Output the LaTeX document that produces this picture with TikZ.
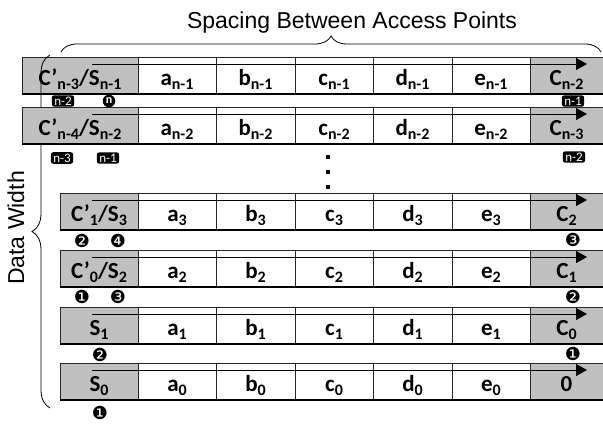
\documentclass[tikz,border=0pt]{standalone}
\usepackage{fontspec}
\setmainfont{Carlito}
\newfontfamily\lsans{Liberation Sans}
\newfontfamily\djv{DejaVu Sans}
\usetikzlibrary{arrows.meta,decorations.pathreplacing}
\definecolor{cellgray}{RGB}{192,192,192}
\newcommand{\sbs}[1]{\raisebox{-4pt}{\fontsize{16}{16}\selectfont #1}}
\tikzset{
  celltxt/.style={anchor=base,inner sep=0pt,font=\fontsize{23}{23}\selectfont\bfseries},
  cellline/.style={draw=black!85,line width=0.8pt},
  botline/.style={draw=black,line width=2.2pt},
  flowarrow/.style={draw=black,line width=1pt,-{Triangle[length=11pt,width=12pt]}},
  lbox/.style={fill=black,text=white,rounded corners=2.5pt,inner xsep=2.5pt,inner ysep=1.5pt,font=\fontsize{13}{13}\selectfont},
  lcirc/.style={circle,fill=black,text=white,inner sep=0pt,minimum size=12.5pt,font=\fontsize{12}{12}\selectfont\bfseries},
  dnum/.style={inner sep=0pt,font=\djv\fontsize{18}{18}\selectfont},
  dotsq/.style={fill=black,inner sep=0pt,minimum size=3.5pt},
  bracetxt/.style={font=\lsans\fontsize{23}{23}\selectfont},
}
% #1 prefix, #2 top, #3 left x, #4 left text, #5 subscript, #6 right text
\newcommand{\cellrow}[6]{%
  \fill[cellgray] (#3,#2) rectangle (138,#2+37);
  \fill[cellgray] (530,#2) rectangle (603,#2+37);
  \draw[cellline] (603,#2) -- (#3,#2) -- (#3,#2+37);
  \foreach \xx in {138,216,295,373,452,530} \draw[cellline] (\xx,#2) -- (\xx,#2+37);
  \draw[botline] (#3-0.5,#2+37) -- (603,#2+37);
  \node[celltxt] (#1L) at ({(#3+138)/2},#2+28) {#4};
  \node[celltxt] (#1a) at (177,#2+28) {a\sbs{#5}};
  \node[celltxt] (#1b) at (255.5,#2+28) {b\sbs{#5}};
  \node[celltxt] (#1c) at (334,#2+28) {c\sbs{#5}};
  \node[celltxt] (#1d) at (412.5,#2+28) {d\sbs{#5}};
  \node[celltxt] (#1e) at (491,#2+28) {e\sbs{#5}};
  \node[celltxt] (#1R) at (566.5,#2+28) {#6};
  \coordinate (#1s) at (92,#2+7);
  \coordinate (#1t) at (587,#2+7);
  \draw[flowarrow] (#1s) -- (#1t);
}
\begin{document}
\begin{tikzpicture}[x=1pt,y=-1pt]
\fill[white] (0,0) rectangle (603,424);
\useasboundingbox (0,0) rectangle (603,424);

\node[bracetxt,anchor=base] (title) at (352,28) {Spacing Between Access Points};
\draw[line width=0.8pt,decorate,decoration={brace,amplitude=16pt}] (61,52) -- (601,52);

\cellrow{r1}{57}{22}{C’\sbs{n-3}/S\sbs{n-1}}{n-1}{C\sbs{n-2}}
\draw[line width=0.8pt,decorate,decoration={brace,amplitude=18pt}] (50,408) -- (50,55);
\node[bracetxt,rotate=90] (dw) at (16,228) {Data Width};

\cellrow{r2}{107}{22}{C’\sbs{n-4}/S\sbs{n-2}}{n-2}{C\sbs{n-3}}
\cellrow{r3}{193}{60}{C’\sbs{1}/S\sbs{3}}{3}{C\sbs{2}}
\cellrow{r4}{250}{60}{C’\sbs{0}/S\sbs{2}}{2}{C\sbs{1}}
\cellrow{r5}{307}{60}{S\sbs{1}}{1}{C\sbs{0}}
\cellrow{r6}{363}{60}{S\sbs{0}}{0}{0}

% labels
\node[lbox] (l1a) at (63,101) {n-2};
\node[lcirc] (l1b) at (109,101) {n};
\node[lbox] (l1c) at (573,101) {n-1};
\node[lbox] (l2a) at (62,158) {n-3};
\node[lbox] (l2b) at (108,158) {n-1};
\node[lbox] (l2c) at (574,157) {n-2};
\node[dotsq] (dt1) at (328,157) {};
\node[dotsq] (dt2) at (328,172) {};
\node[dotsq] (dt3) at (328,187) {};
\node[dnum] (l3a) at (82,241) {❷};
\node[dnum] (l3b) at (118,241) {❹};
\node[dnum] (l3c) at (573,240) {❸};
\node[dnum] (l4a) at (82,297) {❶};
\node[dnum] (l4b) at (118,297) {❸};
\node[dnum] (l4c) at (573,297) {❷};
\node[dnum] (l5a) at (100,355) {❷};
\node[dnum] (l5c) at (573,354) {❶};
\node[dnum] (l6a) at (100,413) {❶};
\end{tikzpicture}
\end{document}
